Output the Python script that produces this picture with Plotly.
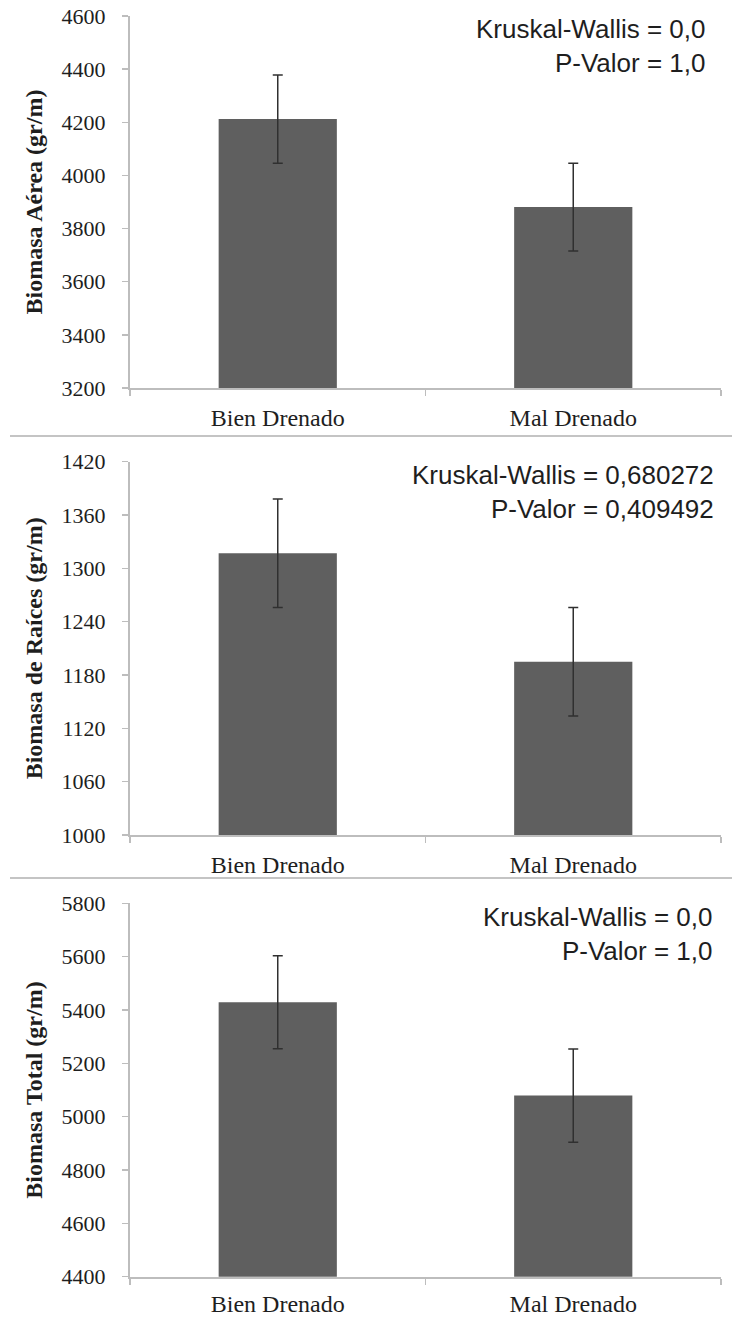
import plotly.graph_objects as go

# ---------------- data ----------------
categories = ["Bien Drenado", "Mal Drenado"]

aerea_mean = [4212, 3881]
aerea_err = [166, 165]

raices_mean = [1317, 1195]
raices_err = [61, 61]

total_mean = [5429, 5079]
total_err = [174, 175]

y_titles = ["Biomasa Aérea (gr/m)", "Biomasa de Raíces (gr/m)", "Biomasa Total (gr/m)"]
y_ranges = [[3200, 4600], [1000, 1420], [4400, 5800]]
y_dticks = [200, 60, 200]
stat_texts = [
    "Kruskal-Wallis = 0,0<br>P-Valor = 1,0",
    "Kruskal-Wallis = 0,680272<br>P-Valor = 0,409492",
    "Kruskal-Wallis = 0,0<br>P-Valor = 1,0",
]

# ---------------- layout helpers ----------------
W, H = 732, 1317


def px_x(x):
    return x / W


def px_y(y):
    return 1 - y / H


panels_px = [(16, 388), (461.7, 835), (903.3, 1276.7)]  # top, bottom of plot areas
x_dom = [px_x(130), px_x(721)]
ann_px = [(708, 12), (716, 458), (715, 900)]  # right edge, top
sep_px = [436, 878]
x_label_standoff = [7, 7, 4]

BAR_COLOR = "#5f5f5f"
AXIS_COLOR = "#bdbdbd"
TEXT_COLOR = "#1e1e1e"
SERIF = "Liberation Serif, Times New Roman, serif"
SANS = "Liberation Sans, Arial, sans-serif"

means = [aerea_mean, raices_mean, total_mean]
errs = [aerea_err, raices_err, total_err]

fig = go.Figure()
layout = dict(
    width=W,
    height=H,
    margin=dict(l=0, r=0, t=0, b=0),
    paper_bgcolor="white",
    plot_bgcolor="white",
    showlegend=False,
    annotations=[],
    shapes=[],
)

for i in range(3):
    sfx = "" if i == 0 else str(i + 1)
    fig.add_trace(
        go.Bar(
            x=categories,
            y=means[i],
            width=0.4,
            marker=dict(color=BAR_COLOR, line=dict(width=0)),
            error_y=dict(type="data", array=errs[i], visible=True,
                         color="#303030", thickness=1.5, width=5),
            xaxis="x" + sfx,
            yaxis="y" + sfx,
        )
    )
    top, bot = panels_px[i]
    layout["xaxis" + sfx] = dict(
        domain=x_dom,
        anchor="y" + sfx,
        type="category",
        automargin=False,
        showline=True,
        linecolor=AXIS_COLOR,
        linewidth=2,
        ticks="outside",
        tickson="boundaries",
        ticklen=6,
        tickcolor=AXIS_COLOR,
        tickwidth=1.5,
        showgrid=False,
        tickfont=dict(family=SERIF, size=24, color=TEXT_COLOR),
        ticklabelstandoff=x_label_standoff[i],
        fixedrange=True,
    )
    layout["yaxis" + sfx] = dict(
        domain=[px_y(bot), px_y(top)],
        anchor="x" + sfx,
        automargin=False,
        range=y_ranges[i],
        dtick=y_dticks[i],
        tick0=y_ranges[i][0],
        showline=True,
        linecolor=AXIS_COLOR,
        linewidth=2,
        ticks="outside",
        ticklen=6,
        tickcolor=AXIS_COLOR,
        tickwidth=1.5,
        showgrid=False,
        zeroline=False,
        tickfont=dict(family=SERIF, size=22, color=TEXT_COLOR),
        ticklabelstandoff=12,
        title=dict(text="<b>" + y_titles[i] + "</b>",
                   font=dict(family=SERIF, size=24, color=TEXT_COLOR),
                   standoff=12),
        fixedrange=True,
    )
    ax, ay = ann_px[i]
    layout["annotations"].append(
        dict(
            text=stat_texts[i],
            xref="paper", yref="paper",
            x=px_x(ax), y=px_y(ay),
            xanchor="right", yanchor="top",
            align="right",
            showarrow=False,
            font=dict(family=SANS, size=26, color=TEXT_COLOR),
        )
    )

for sy in sep_px:
    layout["shapes"].append(
        dict(type="line", xref="paper", yref="paper",
             x0=px_x(10), x1=1, y0=px_y(sy), y1=px_y(sy),
             line=dict(color="#c4c4c4", width=2))
    )

fig.update_layout(**layout)
fig.write_html(
    "out.html",
    config={"displayModeBar": False, "staticPlot": True},
    post_script="document.body.style.margin='0px';document.body.style.overflow='hidden';",
)
